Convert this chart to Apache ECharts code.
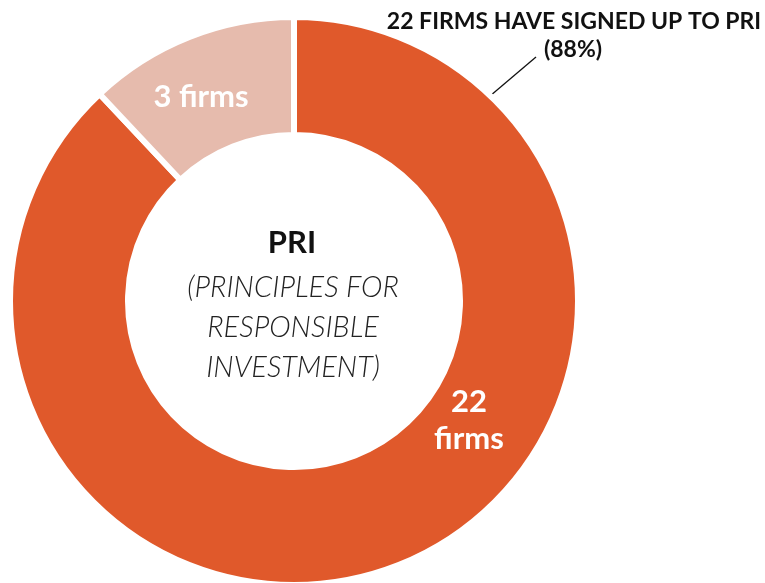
<!DOCTYPE html>
<html>
<head>
<meta charset="utf-8">
<script src="https://cdn.jsdelivr.net/npm/echarts@6/dist/echarts.min.js"></script>
<style>
  html, body { margin: 0; padding: 0; background: #fff; }
  #main { width: 765px; height: 583px; }
</style>
</head>
<body>
<div id="main"></div>
<script>
/* data */
var names = ['22 firms', '3 firms']
var values = [22, 3]
var colors = ['#E0592B', '#E6BBAD']
var calloutLines = ['22 FIRMS HAVE SIGNED UP TO PRI', '(88%)']
var centerTitle = 'PRI'
var centerSub = ['(PRINCIPLES FOR', 'RESPONSIBLE', 'INVESTMENT)']

var font = 'Lato'
var chart = echarts.init(document.getElementById('main'))

var seriesData = names.map(function (n, i) {
  var item = { name: n, value: values[i], itemStyle: { color: colors[i] } }
  if (i === 0) {
    // label sits off to the right, not at the slice middle
    item.label = { formatter: '22\nfirms', offset: [91, -92] }
  } else {
    item.label = { offset: [-9, 8] }
  }
  return item
})

var option = {
  animation: false,
  series: [{
    type: 'pie',
    center: [294, 301],
    radius: [166, 284],
    startAngle: 90,
    clockwise: true,
    silent: true,
    itemStyle: { borderColor: '#fff', borderWidth: 6 },
    label: {
      show: true,
      position: 'inside',
      color: '#fff',
      fontFamily: font,
      fontWeight: 'bold',
      fontSize: 31,
      lineHeight: 37,
      formatter: '{b}'
    },
    labelLine: { show: false },
    data: seriesData
  }],
  graphic: [
    {
      type: 'text',
      x: 574, y: 22,
      style: {
        text: calloutLines[0],
        fill: '#111',
        font: 'bold 23px ' + font,
        textAlign: 'center',
        textVerticalAlign: 'middle'
      }
    },
    {
      type: 'text',
      x: 573, y: 50,
      style: {
        text: calloutLines[1],
        fill: '#111',
        font: 'bold 23px ' + font,
        textAlign: 'center',
        textVerticalAlign: 'middle'
      }
    },
    {
      type: 'line',
      shape: { x1: 490, y1: 96, x2: 536, y2: 57 },
      style: { stroke: '#111', lineWidth: 1.3 }
    },
    {
      type: 'text',
      x: 292, y: 243,
      style: {
        text: centerTitle,
        fill: '#111',
        font: 'bold 31px ' + font,
        textAlign: 'center',
        textVerticalAlign: 'middle'
      }
    },
    {
      type: 'text',
      x: 293, y: 328,
      style: {
        text: centerSub.join('\n'),
        fill: '#222',
        font: 'italic 300 29px ' + font,
        lineHeight: 40,
        textAlign: 'center',
        textVerticalAlign: 'middle'
      }
    }
  ]
}
chart.setOption(option)
</script>
</body>
</html>
